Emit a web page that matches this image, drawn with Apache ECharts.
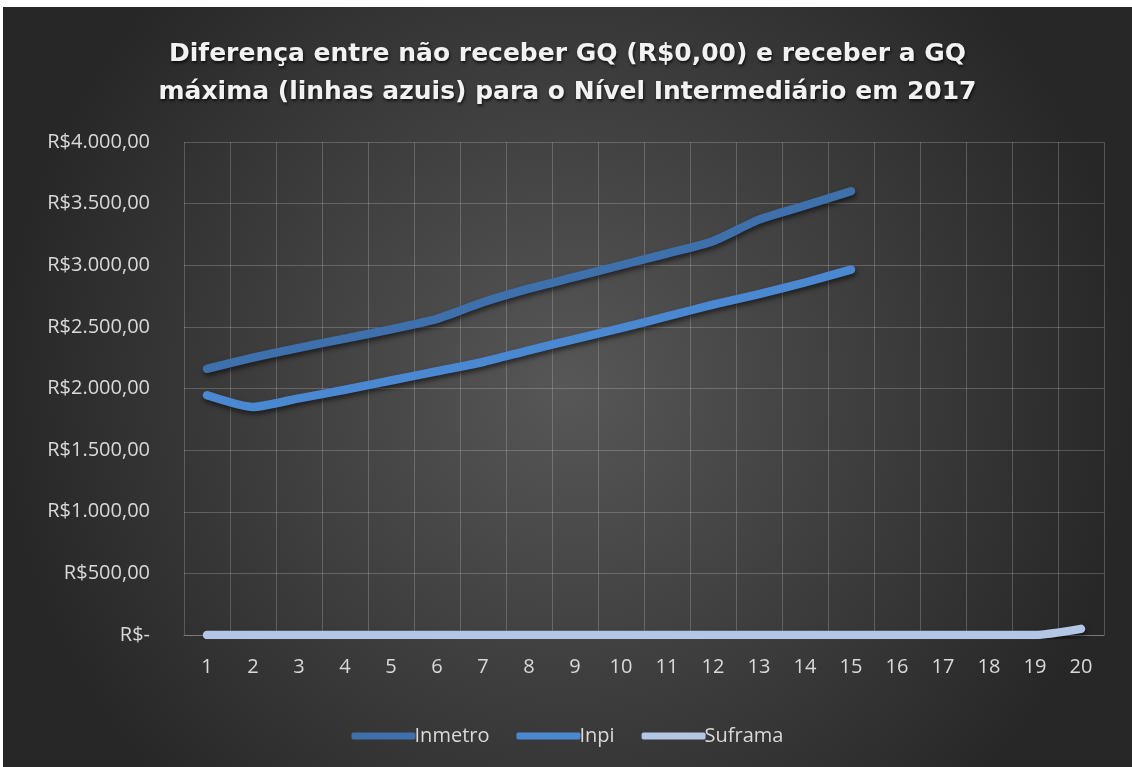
<!DOCTYPE html>
<html>
<head>
<meta charset="utf-8">
<script src="https://cdn.jsdelivr.net/npm/echarts@6/dist/echarts.min.js"></script>
<style>
  html, body { margin:0; padding:0; background:#ffffff; width:1132px; height:767px; overflow:hidden; }
  #chart { position:absolute; left:3px; top:7px; width:1129px; height:760px; }
</style>
</head>
<body>
<div id="chart"></div>
<script>
const categories = ['1','2','3','4','5','6','7','8','9','10','11','12','13','14','15','16','17','18','19','20'];
const inmetro = [2160, 2250, 2330, 2405, 2480, 2565, 2700, 2810, 2905, 3000, 3095, 3195, 3370, 3485, 3600];
const inpi = [1945, 1850, 1920, 1990, 2065, 2140, 2215, 2310, 2400, 2490, 2585, 2680, 2765, 2860, 2965];
const suframa = [0, 0, 0, 0, 0, 0, 0, 0, 0, 0, 0, 0, 0, 0, 0, 0, 0, 0, 0, 50];
const yTickValues = [0, 500, 1000, 1500, 2000, 2500, 3000, 3500, 4000];
const yTickLabels = ['R$-', 'R$500,00', 'R$1.000,00', 'R$1.500,00', 'R$2.000,00', 'R$2.500,00', 'R$3.000,00', 'R$3.500,00', 'R$4.000,00'];
const seriesNames = ['Inmetro', 'Inpi', 'Suframa'];
const titleText = 'Diferença entre não receber GQ (R$0,00) e receber a GQ\nmáxima (linhas azuis) para o Nível Intermediário em 2017';

const colors = ['#3e71ab', '#4a88d2', '#b4c6e6'];
const chart = echarts.init(document.getElementById('chart'));

function lineSeries(name, data, color) {
  return {
    name: name,
    type: 'line',
    data: data,
    symbol: 'none',
    smooth: 0.2,
    itemStyle: { color: color },
    lineStyle: {
      color: color, width: 8.5, cap: 'round', join: 'round',
      shadowColor: 'rgba(0,0,0,0.55)', shadowBlur: 5, shadowOffsetY: 3, shadowOffsetX: 1
    }
  };
}

chart.setOption({
  backgroundColor: {
    type: 'radial', x: 0.5, y: 0.5, r: 0.75,
    colorStops: [{ offset: 0, color: '#575757' }, { offset: 1, color: '#272727' }]
  },
  animation: false,
  title: {
    text: titleText,
    left: 'center',
    top: 23,
    textStyle: {
      fontFamily: 'DejaVu Sans', fontWeight: 'bold', fontSize: 25, lineHeight: 38,
      color: '#f2f2f2',
      textShadowColor: 'rgba(0,0,0,0.7)', textShadowBlur: 3, textShadowOffsetX: 1, textShadowOffsetY: 2
    }
  },
  legend: {
    data: seriesNames,
    left: 'center',
    top: 714,
    itemWidth: 64,
    itemHeight: 7,
    itemGap: 27,
    icon: 'roundRect',
    textStyle: { color: '#d9d9d9', fontSize: 20, fontFamily: 'Open Sans', padding: [0, 0, 0, -6] }
  },
  grid: { left: 181, right: 28, top: 135, bottom: 132, containLabel: false },
  xAxis: {
    type: 'category',
    data: categories,
    boundaryGap: true,
    axisLine: { show: true, lineStyle: { color: '#7a7a7a', width: 1 } },
    axisTick: { show: false },
    axisLabel: { color: '#d9d9d9', fontSize: 20, fontFamily: 'Open Sans', margin: 22 },
    splitLine: { show: true, interval: 0, lineStyle: { color: 'rgba(200,200,200,0.28)', width: 1 } }
  },
  yAxis: {
    type: 'value',
    min: 0, max: 4000, interval: 500,
    axisLine: { show: false },
    axisTick: { show: false },
    axisLabel: {
      color: '#d9d9d9', fontSize: 20, fontFamily: 'Open Sans', margin: 34,
      formatter: function (v) { const i = yTickValues.indexOf(v); return i >= 0 ? yTickLabels[i] : ''; }
    },
    splitLine: { show: true, lineStyle: { color: 'rgba(200,200,200,0.28)', width: 1 } }
  },
  series: [
    lineSeries(seriesNames[0], inmetro, colors[0]),
    lineSeries(seriesNames[1], inpi, colors[1]),
    lineSeries(seriesNames[2], suframa, colors[2])
  ]
});
</script>
</body>
</html>
